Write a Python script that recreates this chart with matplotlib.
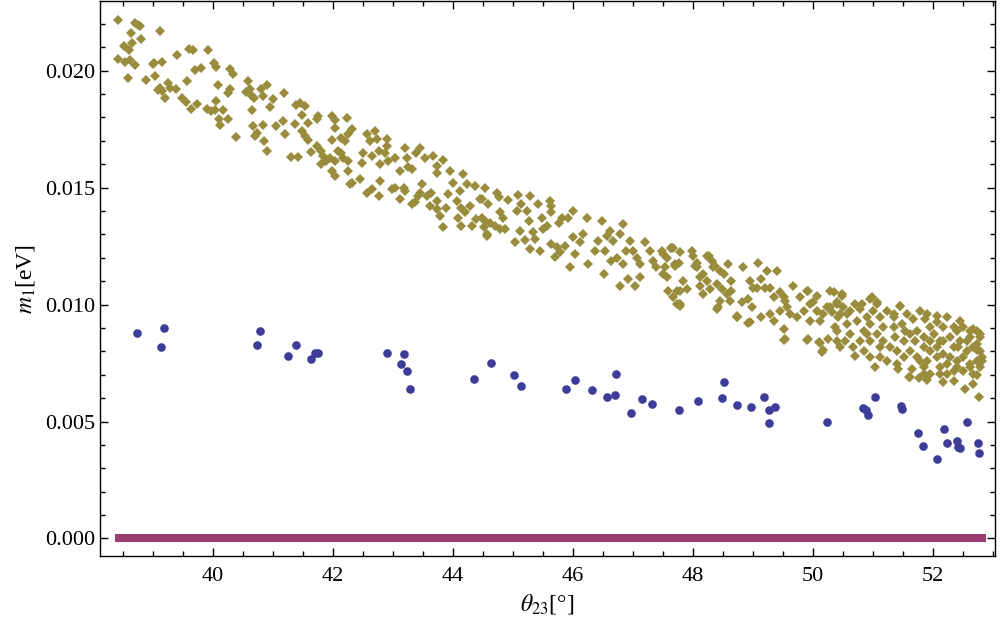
import numpy as np
import matplotlib
matplotlib.use("Agg")
from matplotlib import pyplot as plt
from matplotlib.ticker import MultipleLocator, FormatStrFormatter

# olive diamonds: (theta23 [deg], m1 [meV])
olive_pts = [
    (38.42, 22.15), (38.70, 22.04), (38.76, 21.95), (38.78, 21.93), (38.63, 21.60), (39.12, 21.68),
    (38.81, 21.34), (38.65, 21.17), (38.52, 21.05), (38.60, 20.87), (38.42, 20.48), (38.53, 20.37),
    (38.62, 20.44), (38.70, 20.24), (38.58, 19.67), (39.00, 20.27), (39.02, 20.31), (39.15, 20.37),
    (38.89, 19.59), (39.03, 19.77), (39.41, 20.69), (39.60, 20.95), (39.67, 20.87), (39.92, 20.87),
    (39.26, 19.48), (39.09, 19.16), (39.15, 19.13), (39.12, 19.24), (39.28, 19.24), (39.39, 19.20),
    (39.21, 18.82), (39.49, 18.84), (39.55, 18.67), (39.57, 19.56), (39.70, 20.01), (39.81, 20.10),
    (39.63, 18.37), (39.73, 18.56), (40.02, 20.32), (40.05, 20.15), (39.90, 18.35), (39.97, 18.28),
    (40.03, 18.31), (40.05, 18.70), (40.09, 19.41), (40.17, 18.31), (40.10, 17.92), (40.12, 17.68),
    (40.26, 19.06), (40.28, 19.20), (40.28, 20.06), (40.34, 19.84), (40.26, 17.92), (40.39, 17.17),
    (40.58, 19.56), (40.56, 19.10), (40.62, 19.20), (40.65, 18.92), (40.68, 18.84), (40.81, 19.20),
    (40.84, 18.92), (40.90, 19.38), (40.65, 18.31), (40.67, 17.62), (40.70, 17.21), (40.74, 17.35),
    (40.84, 17.66), (40.86, 16.99), (40.91, 16.57), (40.96, 18.45), (41.00, 18.77), (41.19, 19.03),
    (41.06, 17.64), (41.17, 17.85), (41.21, 17.28), (41.31, 16.31), (41.37, 17.71), (41.39, 18.53),
    (41.42, 16.31),
    (41.45, 18.63), (41.53, 18.49), (41.48, 18.10), (41.59, 17.78), (41.48, 17.42), (41.53, 17.21),
    (41.59, 17.03), (41.75, 18.06), (41.73, 17.92), (41.98, 18.06), (42.03, 17.88), (42.23, 17.99),
    (42.03, 17.56), (42.31, 17.49), (42.25, 17.28), (41.99, 17.03), (42.14, 17.14), (42.20, 16.99),
    (41.64, 16.54), (41.73, 16.78), (41.81, 16.57), (41.84, 16.35), (41.89, 16.14), (41.81, 16.03),
    (41.95, 16.28), (42.03, 16.14), (42.08, 16.57), (42.14, 16.50), (42.17, 16.28), (42.25, 16.14),
    (41.98, 15.71), (42.03, 15.50), (42.25, 15.71), (42.31, 15.22), (42.28, 15.15), (42.45, 15.36),
    (42.48, 16.07), (42.50, 16.50), (42.56, 17.28), (42.62, 16.99), (42.70, 17.42), (42.73, 17.07),
    (42.90, 17.07), (42.90, 16.78), (42.56, 14.79), (42.65, 14.93), (42.76, 14.65), (42.79, 15.29),
    (42.65, 16.35), (42.76, 16.57), (42.87, 16.50), (42.92, 16.14), (42.79, 16.00), (43.03, 16.28),
    (43.20, 16.71), (43.23, 16.28), (43.39, 16.50), (43.45, 16.71), (42.98, 14.93), (43.04, 15.00),
    (43.12, 15.71), (43.18, 15.00), (43.20, 14.86), (43.25, 15.90), (43.31, 15.79), (43.12, 14.51),
    (43.31, 14.30), (43.37, 14.37), (43.45, 14.79), (43.48, 15.15), (43.42, 14.65), (43.56, 14.65),
    (43.64, 14.79), (43.62, 14.22), (43.73, 14.43), (43.73, 14.08), (43.78, 13.79), (43.84, 13.30),
    (43.89, 14.15), (43.92, 14.72), (43.53, 16.28), (43.67, 16.35), (43.84, 16.17), (43.73, 15.93),
    (43.73, 15.64), (43.95, 15.71), (44.17, 15.57), (44.00, 15.22), (44.12, 14.86), (44.23, 15.15),
    (44.37, 15.07), (44.53, 15.00), (44.06, 14.43), (44.14, 14.15), (44.20, 13.94), (44.28, 14.22),
    (44.09, 13.72), (44.14, 13.37), (44.31, 13.37), (44.39, 13.65), (44.48, 13.72), (44.51, 13.30),
    (44.56, 12.94), (44.45, 14.51),
    (44.48, 14.51), (44.59, 14.32), (44.73, 14.79), (44.76, 14.58), (44.78, 13.94), (44.84, 13.72),
    (44.53, 13.58), (44.62, 13.51), (44.70, 13.37), (44.78, 13.23), (44.87, 13.23), (44.56, 13.02),
    (44.92, 14.47), (45.09, 14.69), (45.14, 14.32), (45.28, 14.65), (45.06, 14.01), (45.23, 14.01),
    (45.26, 13.58), (45.42, 14.32), (45.03, 12.66), (45.20, 12.76), (45.11, 13.16), (45.34, 13.09),
    (45.37, 12.80), (45.28, 12.38), (45.45, 12.30), (45.50, 13.23), (45.48, 13.72), (45.62, 14.44),
    (45.64, 13.94), (45.64, 14.23), (45.56, 13.37), (45.76, 13.51), (45.81, 13.72), (45.92, 13.72),
    (46.00, 14.01), (45.64, 12.59), (45.73, 12.45), (45.70, 12.02), (45.78, 12.23), (45.87, 12.52),
    (45.95, 11.59), (46.03, 12.16), (46.00, 12.87), (46.12, 12.66), (46.17, 13.02), (46.23, 13.72),
    (46.25, 11.73), (46.37, 12.30), (46.42, 12.73), (46.48, 13.58), (46.56, 12.94), (46.53, 12.30),
    (46.62, 13.16), (46.67, 12.73), (46.78, 13.01), (46.84, 13.44), (46.64, 11.87), (46.73, 12.01),
    (46.84, 11.73), (46.89, 12.30), (46.95, 12.73), (47.00, 12.30), (47.06, 12.01), (47.12, 11.73),
    (47.20, 12.66), (47.28, 12.30), (47.34, 11.87), (47.39, 11.59), (47.48, 12.30), (47.56, 12.01),
    (47.64, 12.44), (47.70, 11.73), (47.50, 11.30), (46.51, 11.30), (46.78, 10.81), (46.92, 11.09),
    (47.03, 10.81), (47.12, 11.16), (47.59, 10.59), (47.67, 10.31), (47.73, 10.02),
    (47.67, 12.44), (47.78, 12.23), (47.98, 12.30), (48.00, 12.09), (48.23, 12.09), (48.31, 11.87),
    (47.70, 11.66), (47.76, 11.80), (48.06, 11.80), (48.03, 11.66), (48.37, 11.66), (48.45, 11.45),
    (48.59, 11.73), (48.51, 11.30), (48.84, 11.59), (49.09, 11.80), (49.23, 11.45), (49.40, 11.45),
    (47.84, 10.99), (47.90, 10.67), (47.73, 10.59), (48.17, 11.30), (48.23, 10.99), (48.12, 10.81),
    (48.28, 10.67), (48.40, 10.88), (48.48, 10.67), (48.64, 10.99), (48.64, 10.59), (48.45, 10.17),
    (48.42, 9.88), (48.62, 10.17), (48.73, 9.45), (48.81, 10.09), (48.92, 10.24), (48.98, 9.88),
    (48.95, 10.99), (49.00, 10.73), (49.14, 11.09), (49.20, 10.73), (49.28, 10.73), (49.34, 10.31),
    (49.45, 10.52), (49.53, 10.17), (49.67, 10.81), (49.89, 10.59), (50.06, 10.38), (50.28, 10.59),
    (50.39, 10.02), (47.78, 10.02), (48.40, 9.81), (48.95, 9.24), (49.14, 9.45), (49.28, 9.60),
    (49.34, 9.31), (49.45, 9.74), (49.56, 9.88), (49.62, 9.60), (49.73, 9.45), (49.84, 9.74),
    (49.95, 10.02), (50.06, 9.74), (50.17, 9.60), (50.28, 9.88), (49.95, 9.31), (50.12, 9.31),
    (49.51, 8.96), (49.53, 8.53), (49.92, 8.53), (50.09, 8.39), (50.17, 8.04), (50.25, 8.53),
    (50.39, 8.87),
    (50.34, 10.52), (50.48, 10.38), (50.39, 10.09), (50.50, 9.88), (50.31, 9.67), (50.42, 9.45),
    (50.37, 9.03), (50.56, 9.17), (50.62, 8.75), (50.53, 8.46), (50.45, 8.17), (50.67, 8.17),
    (50.70, 7.82), (50.78, 8.46), (50.84, 8.89), (50.81, 10.02), (50.95, 10.24), (51.06, 10.09),
    (51.00, 9.74), (50.89, 9.45), (51.12, 9.45), (51.23, 9.74), (51.17, 9.03), (51.06, 8.75),
    (50.95, 8.46), (50.84, 8.03), (51.03, 7.32), (51.12, 7.75), (51.28, 8.17), (51.37, 8.60),
    (51.45, 9.95), (51.34, 9.45), (51.48, 9.17), (51.53, 8.89), (51.67, 9.38), (51.78, 9.74),
    (51.87, 9.38), (51.95, 9.03), (52.06, 9.24), (52.17, 9.03), (51.70, 8.46), (51.62, 8.03),
    (51.73, 7.75), (51.84, 8.17), (51.95, 8.46), (52.06, 8.17), (52.17, 8.46), (52.28, 8.60),
    (52.39, 8.89), (52.50, 9.03), (52.62, 8.89), (52.73, 8.89), (52.42, 8.17), (52.56, 8.46),
    (52.67, 8.17), (52.78, 8.03), (52.28, 7.75), (52.39, 7.61), (52.50, 7.75), (52.62, 7.46),
    (52.73, 7.61), (52.81, 7.75), (52.34, 7.18), (52.50, 7.18), (52.67, 7.04), (51.64, 7.25),
    (51.84, 7.32), (51.95, 7.04), (52.12, 7.32), (52.23, 7.04), (51.42, 7.25), (51.62, 6.89),
    (47.78, 9.95), (48.73, 9.49), (48.92, 9.20), (49.51, 8.49), (49.89, 8.49), (50.12, 8.35),
    (50.14, 7.96), (51.59, 6.92), (51.76, 6.87), (51.90, 6.76), (52.17, 6.68), (52.34, 6.75),
    (52.53, 6.40), (52.67, 6.62), (52.76, 6.04), (52.73, 6.97), (52.78, 8.75), (52.73, 8.04),
    (52.81, 7.61), (52.67, 8.96),
    (47.50, 12.16), (47.64, 12.44), (48.26, 12.09), (48.34, 11.59), (49.92, 10.59), (50.48, 10.45),
    (50.98, 10.31), (51.45, 9.95), (51.89, 9.60), (52.06, 9.53), (47.53, 11.59), (47.56, 11.16),
    (47.78, 10.59), (47.76, 10.02), (48.06, 11.59), (48.12, 11.16), (48.17, 10.45), (48.56, 10.45),
    (48.73, 9.53), (49.06, 10.73), (49.51, 10.31), (49.78, 10.31), (50.00, 10.09), (50.23, 9.88),
    (50.45, 9.60), (50.78, 9.81), (51.06, 10.02), (51.34, 9.60),
    (50.62, 9.74), (50.73, 9.31), (50.70, 10.02), (50.95, 9.17), (50.89, 8.75), (51.17, 8.46),
    (51.40, 8.03), (51.51, 8.46), (51.23, 7.61), (50.95, 7.75), (51.56, 9.60), (51.62, 8.75),
    (51.73, 8.89), (51.84, 8.60), (52.01, 8.75), (52.12, 8.46), (51.95, 8.03), (52.06, 7.75),
    (52.17, 7.89), (52.23, 7.46), (51.78, 7.61), (51.89, 7.61), (52.34, 8.17), (52.45, 8.46),
    (52.56, 8.03), (52.73, 8.32), (52.78, 8.60), (52.62, 8.60), (52.45, 9.31), (52.23, 9.45),
    (52.34, 9.03), (52.62, 7.32), (52.39, 7.32), (52.78, 7.32), (52.12, 7.04), (51.84, 7.04),
    (51.40, 7.46), (51.51, 7.75), (51.12, 8.17), (51.34, 9.03), (50.56, 9.60), (50.39, 8.46),
]

# blue circles: theta23 [deg], m1 [eV]
blue_theta = [38.74, 39.14, 39.18, 40.73, 40.78, 41.26, 41.38, 41.63, 41.70, 41.76,
              42.90, 43.18, 43.13, 43.23, 43.28, 44.35, 44.63, 45.01, 45.14, 45.88,
              46.03, 46.31, 46.57, 46.70, 46.71, 46.97, 47.15, 47.31, 47.77, 48.09,
              48.48, 48.52, 48.74, 48.97, 49.18, 49.26, 49.36, 49.27, 50.23, 50.83,
              50.88, 50.91, 51.03, 51.47, 51.48, 51.75, 51.83, 52.06, 52.18, 52.23,
              52.40, 52.42, 52.45, 52.57, 52.74, 52.77]
blue_m1 = [0.00880, 0.00817, 0.00902, 0.00826, 0.00889, 0.00782, 0.00826, 0.00769, 0.00791, 0.00791,
           0.00791, 0.00787, 0.00744, 0.00714, 0.00641, 0.00680, 0.00752, 0.00701, 0.00654, 0.00641,
           0.00676, 0.00637, 0.00603, 0.00612, 0.00705, 0.00535, 0.00597, 0.00577, 0.00548, 0.00587,
           0.00599, 0.00671, 0.00569, 0.00561, 0.00603, 0.00551, 0.00561, 0.00492, 0.00496, 0.00556,
           0.00551, 0.00530, 0.00607, 0.00565, 0.00555, 0.00449, 0.00394, 0.00338, 0.00466, 0.00407,
           0.00417, 0.00390, 0.00385, 0.00496, 0.00407, 0.00364]

# magenta squares: m1 ~ 0 along the whole theta23 range
magenta_theta = [38.43, 38.51, 38.60, 38.67, 38.75, 38.84, 38.92, 38.99, 39.08, 39.17, 39.25, 39.33,
                 39.40, 39.49, 39.58, 39.66, 39.73, 39.82, 39.91, 39.99, 40.07, 40.15, 40.24, 40.32,
                 40.40, 40.48, 40.57, 40.65, 40.73, 40.81, 40.90, 40.98, 41.06, 41.14, 41.23, 41.31,
                 41.39, 41.47, 41.56, 41.64, 41.72, 41.80, 41.89, 41.97, 42.05, 42.13, 42.22, 42.30,
                 42.38, 42.46, 42.55, 42.63, 42.71, 42.79, 42.88, 42.96, 43.04, 43.12, 43.21, 43.29,
                 43.37, 43.45, 43.54, 43.62, 43.70, 43.78, 43.87, 43.95, 44.03, 44.11, 44.20, 44.28,
                 44.36, 44.44, 44.53, 44.61, 44.69, 44.77, 44.86, 44.94, 45.02, 45.10, 45.19, 45.27,
                 45.35, 45.43, 45.52, 45.60, 45.68, 45.76, 45.85, 45.93, 46.01, 46.09, 46.18, 46.26,
                 46.34, 46.42, 46.51, 46.59, 46.67, 46.75, 46.84, 46.92, 47.00, 47.08, 47.17, 47.25,
                 47.33, 47.41, 47.50, 47.58, 47.66, 47.74, 47.83, 47.91, 47.99, 48.07, 48.16, 48.24,
                 48.32, 48.40, 48.49, 48.57, 48.65, 48.73, 48.82, 48.90, 48.98, 49.06, 49.15, 49.23,
                 49.31, 49.39, 49.48, 49.56, 49.64, 49.72, 49.81, 49.89, 49.97, 50.05, 50.14, 50.22,
                 50.30, 50.38, 50.47, 50.55, 50.63, 50.71, 50.80, 50.88, 50.96, 51.04, 51.13, 51.21,
                 51.29, 51.37, 51.46, 51.54, 51.62, 51.70, 51.79, 51.87, 51.95, 52.03, 52.12, 52.20,
                 52.28, 52.36, 52.45, 52.53, 52.61, 52.69, 52.78, 52.81]
magenta_m1 = [0.0] * len(magenta_theta)

olive_theta, olive_m1 = np.array(olive_pts).T
olive_m1 = olive_m1 * 1e-3

plt.rcParams["font.family"] = "Liberation Serif"
plt.rcParams["mathtext.fontset"] = "stix"

fig = plt.figure(figsize=(10, 6.28), dpi=100)
ax = fig.add_axes([0.100, 0.1146, 0.895, 0.8834])

ax.plot(magenta_theta, magenta_m1, ls="none", marker="s", ms=5.3, color="#993d70", mew=0)
ax.plot(olive_theta, olive_m1, ls="none", marker="D", ms=5.3, color="#998c3d", mew=0)
ax.plot(blue_theta, blue_m1, ls="none", marker="o", ms=6.2, color="#3d3d99", mew=0)

ax.set_xlim(38.12, 53.03)
ax.set_ylim(-0.00075, 0.02297)

ax.xaxis.set_major_locator(MultipleLocator(2))
ax.xaxis.set_minor_locator(MultipleLocator(0.5))
ax.yaxis.set_major_locator(MultipleLocator(0.005))
ax.yaxis.set_minor_locator(MultipleLocator(0.001))
ax.yaxis.set_major_formatter(FormatStrFormatter("%.3f"))

ax.tick_params(which="both", direction="in", top=True, right=True, labelsize=16, width=1)
ax.tick_params(which="major", length=6)
ax.tick_params(which="minor", length=3.5)
ax.tick_params(axis="x", pad=8)
for s in ax.spines.values():
    s.set_linewidth(1)

ax.set_xlabel(r"$\theta_{23}$[°]", fontsize=17, labelpad=4)
ax.set_ylabel(r"$m_1$[eV]", fontsize=17, labelpad=6)

fig.savefig("out.png", dpi=100)
